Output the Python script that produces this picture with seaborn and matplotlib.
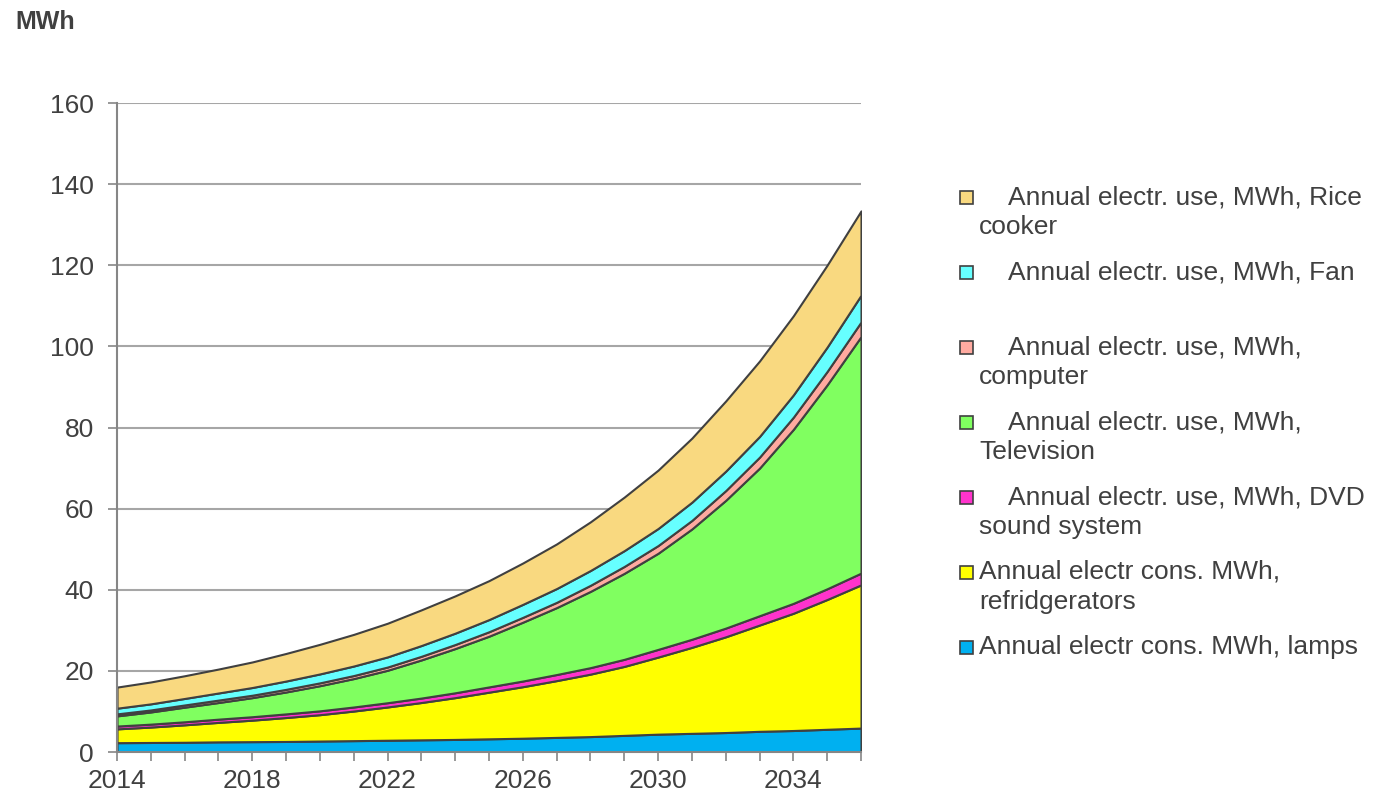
import matplotlib
matplotlib.use("Agg")
import matplotlib.pyplot as plt
from matplotlib.patches import Rectangle
import seaborn as sns

years = list(range(2014, 2037))
year_labels = [2014, 2018, 2022, 2026, 2030, 2034]

# MWh per year (bottom layer first)
lamps = [2.3, 2.35, 2.4, 2.5, 2.55, 2.6, 2.7, 2.8, 2.9, 3.0, 3.1, 3.25,
         3.4, 3.6, 3.8, 4.1, 4.4, 4.6, 4.8, 5.1, 5.3, 5.6, 5.9]
fridge = [3.4, 3.8, 4.3, 4.8, 5.3, 5.9, 6.5, 7.3, 8.2, 9.2, 10.3, 11.5,
          12.7, 14.0, 15.4, 17.0, 19.0, 21.2, 23.6, 26.2, 28.9, 32.0, 35.3]
dvd = [0.7, 0.72, 0.75, 0.8, 0.85, 0.9, 0.95, 1.0, 1.05, 1.1, 1.2, 1.3,
       1.4, 1.5, 1.6, 1.75, 1.9, 2.0, 2.15, 2.3, 2.45, 2.65, 2.9]
tv = [2.5, 3.0, 3.6, 4.1, 4.7, 5.4, 6.2, 7.0, 8.0, 9.4, 10.9, 12.5,
      14.5, 16.5, 18.8, 21.2, 23.7, 27.2, 31.5, 36.4, 42.9, 50.3, 58.3]
computer = [0.5, 0.5, 0.55, 0.6, 0.6, 0.65, 0.7, 0.75, 0.8, 0.9, 1.0, 1.1,
            1.2, 1.3, 1.5, 1.7, 1.9, 2.1, 2.4, 2.7, 3.0, 3.3, 3.6]
fan = [1.4, 1.5, 1.6, 1.75, 1.9, 2.05, 2.2, 2.35, 2.5, 2.65, 2.8, 3.0,
       3.2, 3.4, 3.65, 3.9, 4.2, 4.5, 4.8, 5.1, 5.5, 6.0, 6.6]
rice = [5.2, 5.4, 5.6, 5.9, 6.3, 6.8, 7.3, 7.8, 8.3, 8.8, 9.2, 9.6,
        10.2, 11.0, 12.0, 13.2, 14.4, 15.8, 17.3, 18.6, 19.5, 20.2, 20.8]

series = [lamps, fridge, dvd, tv, computer, fan, rice]
colors = ["#00B0F0", "#FFFF00", "#FF33CC", "#80FF60", "#FFAAA0", "#66FFFF", "#F9D980"]
labels = [
    "Annual electr cons. MWh, lamps",
    "Annual electr cons. MWh,\nrefridgerators",
    "Annual electr. use, MWh, DVD\nsound system",
    "Annual electr. use, MWh,\nTelevision",
    "Annual electr. use, MWh,\ncomputer",
    "Annual electr. use, MWh, Fan",
    "Annual electr. use, MWh, Rice\ncooker",
]
indented = [False, False, True, True, True, True, True]

sns.set_theme(style="white")
plt.rcParams["font.family"] = ["Liberation Sans", "DejaVu Sans"]
TXT = "#404040"
GRID = "#a6a6a6"
AXC = "#868686"

W, H = 1374, 797
fig = plt.figure(figsize=(W / 100, H / 100), dpi=100)
ax = fig.add_axes([117 / W, 1 - 752 / H, (861 - 117) / W, (752 - 103) / H])

ax.stackplot(years, *series, colors=colors, edgecolor="#404040", linewidth=1.5)

ax.set_xlim(2014, 2036)
ax.set_ylim(0, 160)
ax.set_yticks(range(0, 161, 20))
ax.set_xticks(year_labels)
ax.set_xticks(years, minor=True)
ax.set_axisbelow(True)
ax.yaxis.grid(True, color=GRID, linewidth=1.5)
ax.xaxis.grid(False)

for s in ["top", "right"]:
    ax.spines[s].set_visible(False)
for s in ["left", "bottom"]:
    ax.spines[s].set_color(AXC)
    ax.spines[s].set_linewidth(1.5)

ax.tick_params(axis="both", which="both", direction="out", length=6.5, width=1.2,
               color=AXC, labelcolor=TXT, labelsize=19)
ax.tick_params(axis="y", pad=10, left=True)
ax.tick_params(axis="x", which="both", pad=6, bottom=True)

fig.text(15 / W, 1 - 22 / H, "MWh", fontsize=18, fontweight="bold", color=TXT,
         va="center", ha="left")

# legend, top entry first
for i, k in enumerate(reversed(range(len(series)))):
    yc = 197 + 75 * i
    fig.add_artist(Rectangle((960 / W, 1 - (yc + 6.5) / H), 13 / W, 13 / H,
                             transform=fig.transFigure, facecolor=colors[k],
                             edgecolor="#404040", linewidth=1.2))
    lines = labels[k].split("\n")
    x1 = 1008 if indented[k] else 979
    fig.text(x1 / W, 1 - yc / H, lines[0], fontsize=19, color=TXT,
             va="center", ha="left")
    if len(lines) > 1:
        fig.text(979 / W, 1 - (yc + 30) / H, lines[1], fontsize=19, color=TXT,
                 va="center", ha="left")

fig.savefig("out.png", dpi=100)
